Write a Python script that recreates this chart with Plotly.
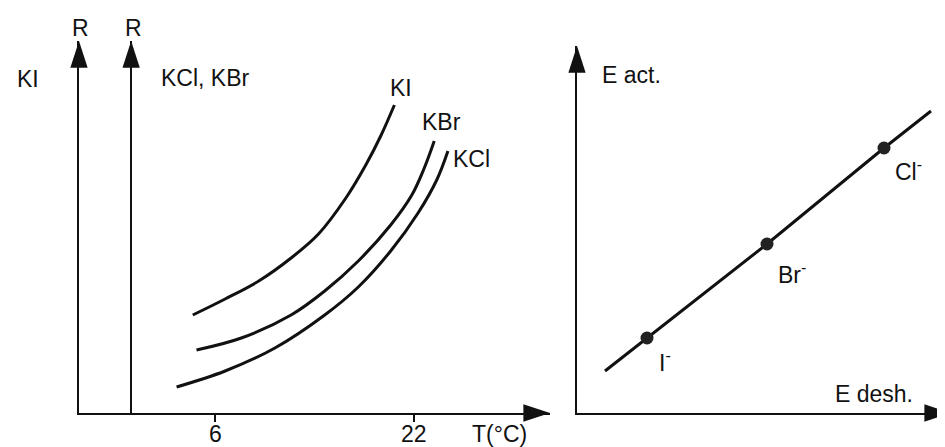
import plotly.graph_objects as go

# ---------------- data (arbitrary units) ----------------
# Left panel: resistance R vs temperature T (°C)
T_KI = [4.2, 6.8, 9.5, 12.1, 14.3, 16.5, 18.1, 19.3, 20.4]
R_KI = [9.8, 11.4, 13.2, 15.5, 17.9, 21.5, 24.8, 27.7, 30.8]

T_KBr = [4.5, 8.1, 12.1, 14.8, 17.5, 20.1, 21.8, 22.8, 23.6]
R_KBr = [6.3, 7.5, 9.8, 12.2, 15.2, 18.8, 21.8, 24.5, 27.2]

T_KCl = [2.9, 6.8, 10.8, 14.8, 17.5, 20.1, 22.3, 23.8, 24.7]
R_KCl = [2.6, 4.2, 6.5, 9.8, 12.6, 16.2, 20.0, 23.3, 26.2]

T_ticks = [6, 22]
T_ticktext = ["6", "22"]

# Right panel: activation energy vs desolvation energy
ions = ["I<sup>-</sup>", "Br<sup>-</sup>", "Cl<sup>-</sup>"]
E_desh_ions = [7.0, 19.0, 30.7]
E_act_ions = [7.5, 16.9, 26.5]
E_desh_line = [2.8, 7.0, 19.0, 30.7, 35.4]
E_act_line = [4.2, 7.5, 16.9, 26.5, 30.2]

# ---------------- axis extents ----------------
T_MIN, T_MAX = -4.94, 32.9
T_AXIS2 = -0.75
R_MAX = 37.2
ED_MAX, EA_MAX = 37.4, 36.7

W, H = 945, 447
FONT = "Liberation Sans Narrow, Liberation Sans, Arial, sans-serif"
INK = "#111111"

xdom1 = [71 / W, 542 / W]
ydom1 = [1 - 405 / H, 1 - 33 / H]
xdom2 = [569 / W, 943 / W]
ydom2 = [1 - 405 / H, 1 - 38 / H]
pos_axis2 = xdom1[0] + (T_AXIS2 - T_MIN) / (T_MAX - T_MIN) * (xdom1[1] - xdom1[0])

fig = go.Figure()

curve = dict(mode="lines", line=dict(color=INK, width=3, shape="spline"),
             cliponaxis=False, showlegend=False, hoverinfo="skip")
fig.add_trace(go.Scatter(x=T_KI, y=R_KI, xaxis="x", yaxis="y", name="KI", **curve))
fig.add_trace(go.Scatter(x=T_KBr, y=R_KBr, xaxis="x", yaxis="y2", name="KBr", **curve))
fig.add_trace(go.Scatter(x=T_KCl, y=R_KCl, xaxis="x", yaxis="y2", name="KCl", **curve))

fig.add_trace(go.Scatter(x=E_desh_line, y=E_act_line, xaxis="x2", yaxis="y3",
                         mode="lines", line=dict(color=INK, width=3),
                         cliponaxis=False, showlegend=False, hoverinfo="skip"))
fig.add_trace(go.Scatter(x=E_desh_ions, y=E_act_ions, xaxis="x2", yaxis="y3",
                         mode="markers", marker=dict(color="#222222", size=13),
                         cliponaxis=False, showlegend=False, hoverinfo="skip"))

# axis arrowheads
arrow = dict(mode="markers", cliponaxis=False, showlegend=False, hoverinfo="skip")
AS = 28
fig.add_trace(go.Scatter(x=[T_MAX], y=[0], xaxis="x", yaxis="y",
                         marker=dict(symbol="arrow", angle=90, size=AS, color=INK), **arrow))
fig.add_trace(go.Scatter(x=[T_MIN], y=[R_MAX], xaxis="x", yaxis="y",
                         marker=dict(symbol="arrow", angle=0, size=AS, color=INK), **arrow))
fig.add_trace(go.Scatter(x=[T_AXIS2], y=[R_MAX], xaxis="x", yaxis="y2",
                         marker=dict(symbol="arrow", angle=0, size=AS, color=INK), **arrow))
fig.add_trace(go.Scatter(x=[ED_MAX], y=[0], xaxis="x2", yaxis="y3",
                         marker=dict(symbol="arrow", angle=90, size=AS, color=INK), **arrow))
fig.add_trace(go.Scatter(x=[0], y=[EA_MAX], xaxis="x2", yaxis="y3",
                         marker=dict(symbol="arrow", angle=0, size=AS, color=INK), **arrow))

base_axis = dict(showline=True, linecolor=INK, linewidth=2, showgrid=False,
                 zeroline=False, fixedrange=True)

fig.update_layout(
    width=W, height=H,
    margin=dict(l=0, r=0, t=0, b=0),
    paper_bgcolor="white", plot_bgcolor="white",
    font=dict(family=FONT, size=23, color=INK),
    xaxis=dict(domain=xdom1, range=[T_MIN, T_MAX], anchor="y",
               tickvals=T_ticks, ticks="outside", showticklabels=False,
               ticklen=7, tickwidth=1.5, tickcolor=INK, **base_axis),
    yaxis=dict(domain=ydom1, range=[0, R_MAX], anchor="x",
               showticklabels=False, ticks="", **base_axis),
    yaxis2=dict(range=[0, R_MAX], overlaying="y", anchor="free",
                position=pos_axis2, side="left",
                showticklabels=False, ticks="", **base_axis),
    xaxis2=dict(domain=xdom2, range=[0, ED_MAX], anchor="y3",
                showticklabels=False, ticks="", **base_axis),
    yaxis3=dict(domain=ydom2, range=[0, EA_MAX], anchor="x2",
                showticklabels=False, ticks="", **base_axis),
)

ann = []
def paper_text(text, px, py, xanchor="center", size=None):
    d = dict(text=text, x=px / W, y=1 - py / H, xref="paper", yref="paper",
             xanchor=xanchor, yanchor="middle", showarrow=False)
    if size:
        d["font"] = dict(size=size)
    ann.append(d)

paper_text("R", 72, 20)
paper_text("R", 125, 20)
paper_text("KI", 20, 71)
paper_text("KCl, KBr", 151, 70, xanchor="left")
paper_text("T(°C)", 491, 426, size=23)
paper_text("E act.", 592, 67, xanchor="left")
paper_text("E desh.", 866, 386)

# tick labels of the temperature axis
for tv, tt in zip(T_ticks, T_ticktext):
    ann.append(dict(text=tt, x=tv, y=1 - 426 / H, xref="x", yref="paper",
                    yanchor="middle", showarrow=False, font=dict(size=23)))

# curve labels (data coordinates)
for txt, x, y, yref in [("KI", 20.9, 32.5, "y"), ("KBr", 24.2, 29.1, "y2"), ("KCl", 26.6, 25.4, "y2")]:
    ann.append(dict(text=txt, x=x, y=y, xref="x", yref=yref, showarrow=False))

# ion labels
for txt, x, y in zip(ions, [8.8, 21.5, 33.1], [5.2, 14.0, 24.3]):
    ann.append(dict(text=txt, x=x, y=y, xref="x2", yref="y3", showarrow=False))

fig.update_layout(annotations=ann)

fig.write_html("out.html")
